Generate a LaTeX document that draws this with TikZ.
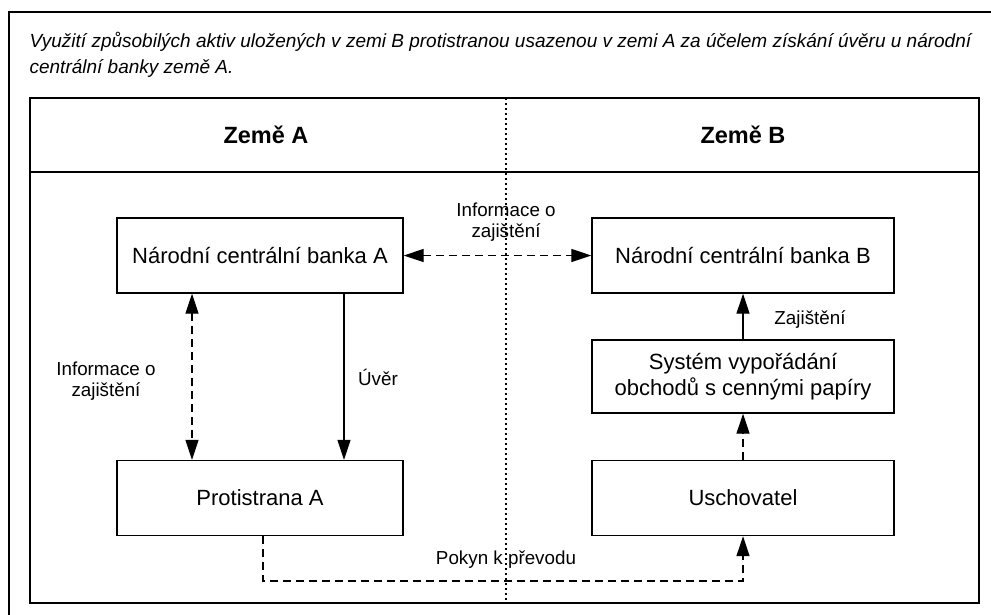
\documentclass[tikz,border=0pt]{standalone}
\usepackage{fontspec}
\setmainfont{Liberation Sans}
\usetikzlibrary{arrows.meta}

\begin{document}
\begin{tikzpicture}[x=1pt, y=-1pt, >={Triangle[length=20pt,width=13pt]}, line width=1.2pt]
    \clip (0,0) rectangle (991,614);

    \tikzset{
      bank/.style={draw, line width=1.4pt, minimum height=75pt, inner sep=0pt, align=center,
                   font=\fontsize{22}{26}\selectfont},
      lbl/.style={align=center, inner sep=0pt, font=\fontsize{18.8}{21.5}\selectfont},
      head/.style={font=\fontsize{23.5}{27}\selectfont\bfseries},
      dashedline/.style={dash pattern=on 8pt off 5pt},
    }

    \def\MidX{506}   % x of divider
    \def\LeftX{260}  % centre of left column
    \def\RightX{743} % centre of right column

    % frames
    \draw[line width=1.4pt] (9,12) rectangle (1000,630);
    \draw[line width=1.5pt] (30,98) rectangle (979,603);
    \draw[line width=2pt] (30,172) -- (979,172);
    \draw[line width=1.2pt, dash pattern=on 2pt off 3pt] (\MidX,98) -- (\MidX,603);

    \node[anchor=base west, inner sep=0pt, font=\fontsize{19}{26}\selectfont\itshape] (title1) at (29,47)
      {Využití způsobilých aktiv uložených v zemi B protistranou usazenou v zemi A za účelem získání úvěru u národní};
    \node[anchor=base west, inner sep=0pt, font=\fontsize{19}{26}\selectfont\itshape] (title2) at (29,73)
      {centrální banky země A.};

    \node[head] (zemeA) at (266,135) {Země A};
    \node[head] (zemeB) at (\RightX,135) {Země B};

    % boxes
    \node[bank, minimum width=286pt] (ncbA) at (\LeftX,255.5) {Národní centrální banka A};
    \node[bank, minimum width=302pt] (ncbB) at (\RightX,255.5) {Národní centrální banka B};
    \node[bank, minimum width=302pt, minimum height=73pt] (sys) at (\RightX,376.5) {Systém vypořádání\\obchodů s cennými papíry};
    \node[bank, minimum width=286pt] (protA) at (\LeftX,498) {Protistrana A};
    \node[bank, minimum width=302pt] (usch) at (\RightX,498) {Uschovatel};

    % connectors
    \draw[<->, dashedline] (ncbA.east) -- (ncbB.west);
    \draw[<->, dashedline] ([xshift=-68pt]ncbA.south) -- ([xshift=-68pt]protA.north);
    \draw[->] ([xshift=84pt]ncbA.south) -- ([xshift=84pt]protA.north);
    \draw[->] (sys.north) -- (ncbB.south);
    \draw[->, dashedline] (usch.north) -- (sys.south);
    \coordinate (pokyn) at (\MidX,581);
    \draw[->, dashedline] ([xshift=3pt]protA.south) |- (pokyn) -| (usch.south);

    % labels
    \node[lbl] (infoTop) at (\MidX,222) {Informace o\\zajištění};
    \node[lbl] (infoLeft) at (106,381) {Informace o\\zajištění};
    \node[lbl] (uver) at (378,377) {Úvěr};
    \node[lbl] (zajist) at (810,320) {Zajištění};
    \node[lbl] (pokynlbl) at (\MidX,560) {Pokyn k převodu};
\end{tikzpicture}
\end{document}
